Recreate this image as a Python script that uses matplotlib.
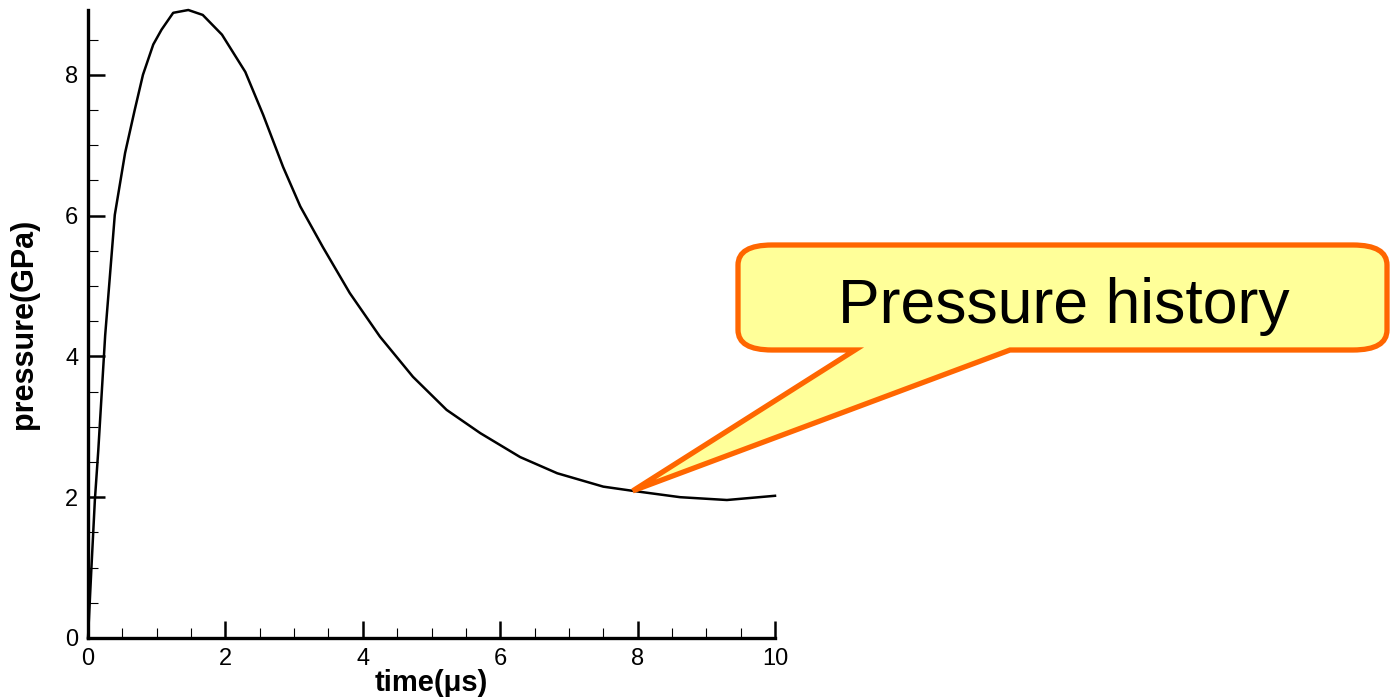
import numpy as np
import matplotlib.pyplot as plt
from matplotlib.path import Path
from matplotlib.patches import PathPatch
from matplotlib.ticker import MultipleLocator

plt.rcParams['font.family'] = ['Liberation Sans', 'DejaVu Sans']

# pressure history (time in microseconds, pressure in GPa)
time_us = [0.0, 0.05, 0.10, 0.15, 0.25, 0.39, 0.54, 0.68, 0.80, 0.95, 1.07, 1.24,
           1.46, 1.67, 1.95, 2.29, 2.55, 2.84, 3.09, 3.42, 3.81, 4.25, 4.73,
           5.22, 5.71, 6.29, 6.83, 7.50, 7.93, 8.62, 9.30, 10.0]
pressure_gpa = [0.0, 1.0, 1.96, 2.67, 4.3, 6.01, 6.89, 7.50, 8.0, 8.43, 8.64, 8.88,
                8.92, 8.85, 8.57, 8.04, 7.43, 6.69, 6.13, 5.55, 4.90, 4.28, 3.71,
                3.24, 2.91, 2.57, 2.34, 2.15, 2.09, 2.00, 1.96, 2.02]
callout_text = "Pressure history"
callout_time = 7.93

W, H, DPI = 1391, 698, 100
fig = plt.figure(figsize=(W / DPI, H / DPI), dpi=DPI)
ax = fig.add_axes([88 / W, 1 - 638 / H, 687 / W, 628 / H])

ax.plot(time_us, pressure_gpa, color='black', lw=1.8, clip_on=False,
        solid_joinstyle='round')
ax.set_xlim(0, 10)
ax.set_ylim(0, max(pressure_gpa))

for side in ('top', 'right'):
    ax.spines[side].set_visible(False)
for side in ('left', 'bottom'):
    ax.spines[side].set_linewidth(2.4)

ax.xaxis.set_major_locator(MultipleLocator(2))
ax.xaxis.set_minor_locator(MultipleLocator(0.5))
ax.yaxis.set_major_locator(MultipleLocator(2))
ax.yaxis.set_minor_locator(MultipleLocator(0.5))
ax.tick_params(which='major', direction='in', length=12, width=1.8,
               labelsize=17, pad=7)
ax.tick_params(which='minor', direction='in', length=7, width=0.8)

ax.set_xlabel('time(μs)', fontsize=21, fontweight='bold')
ax.set_ylabel('pressure(GPa)', fontsize=22, fontweight='bold')
ax.xaxis.set_label_coords(0.5, -0.072)
ax.xaxis.label.set_va('center')
ax.yaxis.set_label_coords(-0.093, 0.5)
ax.yaxis.label.set_va('center')

# speech-bubble callout pointing at the curve
tip = ax.transData.transform((callout_time, np.interp(callout_time, time_us, pressure_gpa)))
tip_px = (tip[0], H - tip[1])
L, R, T, B = 738, 1387, 245, 350
rx, ry = 34, 20
b1, b2 = 855, 1010
pts = [
    ((L + rx, T), Path.MOVETO),
    ((R - rx, T), Path.LINETO),
    ((R, T), Path.CURVE3), ((R, T + ry), Path.CURVE3),
    ((R, B - ry), Path.LINETO),
    ((R, B), Path.CURVE3), ((R - rx, B), Path.CURVE3),
    ((b2, B), Path.LINETO),
    (tip_px, Path.LINETO),
    ((b1, B), Path.LINETO),
    ((L + rx, B), Path.LINETO),
    ((L, B), Path.CURVE3), ((L, B - ry), Path.CURVE3),
    ((L, T + ry), Path.LINETO),
    ((L, T), Path.CURVE3), ((L + rx, T), Path.CURVE3),
    ((L + rx, T), Path.CLOSEPOLY),
]
verts = [(x / W, 1 - y / H) for (x, y), _ in pts]
codes = [c for _, c in pts]
bubble = PathPatch(Path(verts, codes), facecolor='#FFFF99', edgecolor='#FF6600',
                   lw=3.8, joinstyle='miter', transform=fig.transFigure)
fig.patches.append(bubble)
fig.text(1064 / W, 1 - 323 / H, callout_text, fontsize=45,
         ha='center', va='baseline')

fig.savefig('out.png', dpi=DPI)
